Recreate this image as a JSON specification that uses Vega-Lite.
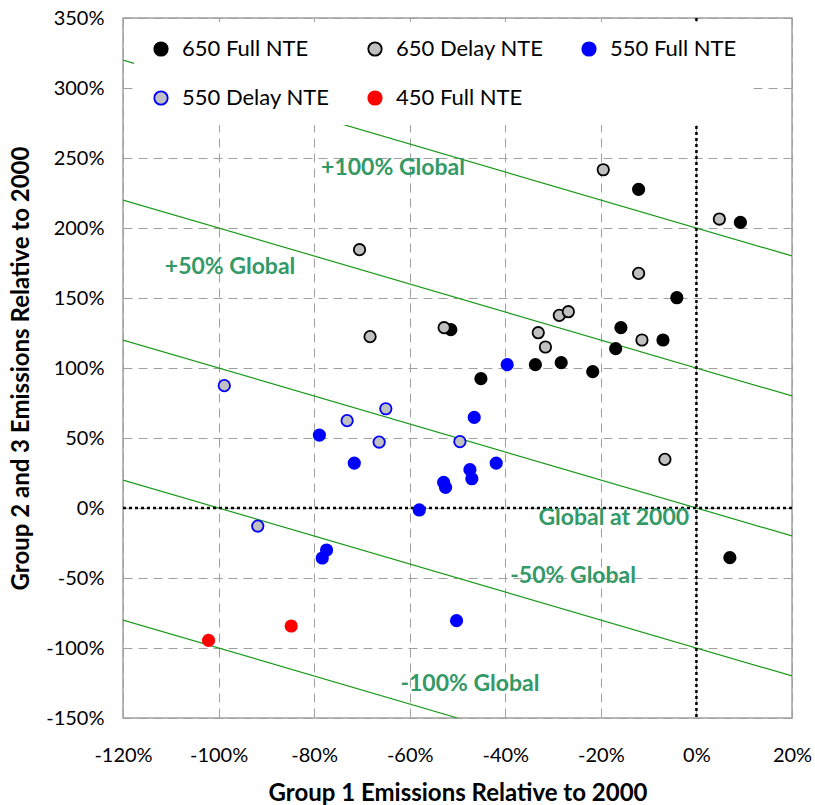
{
  "$schema": "https://vega.github.io/schema/vega-lite/v6.json",
  "autosize": {"type": "none"},
  "padding": {"left": 123, "top": 18, "right": 23, "bottom": 87},
  "width": 669,
  "height": 700,
  "config": {
    "font": "Lato",
    "view": {"stroke": "#a0a0a0", "strokeWidth": 1.5},
    "axis": {
      "grid": true, "gridColor": "#a0a0a0", "gridDash": [9, 6], "gridWidth": 1,
      "domain": false, "ticks": false,
      "labelFont": "Lato", "labelFontSize": 20, "labelColor": "#000000",
      "titleFont": "Lato", "titleFontSize": 24, "titleFontWeight": "bold", "titleColor": "#000000"
    },
    "legend": {
      "orient": "none", "legendX": 11, "legendY": 4,
      "direction": "horizontal", "columns": 3,
      "fillColor": "#ffffff", "padding": 16,
      "columnPadding": 34, "rowPadding": 27,
      "labelFont": "Lato", "labelFontSize": 22, "labelColor": "#000000", "labelLimit": 300,
      "labelOffset": 10, "symbolSize": 180, "symbolStrokeWidth": 1.8, "symbolType": "circle"
    }
  },
  "datasets": {
    "points": [
      {"s": "650 Full NTE", "x": -12.1, "y": 227.6},
      {"s": "650 Full NTE", "x": 9.2, "y": 204.0},
      {"s": "650 Full NTE", "x": -4.1, "y": 150.2},
      {"s": "650 Full NTE", "x": -51.4, "y": 127.4},
      {"s": "650 Full NTE", "x": -15.8, "y": 128.8},
      {"s": "650 Full NTE", "x": -7.0, "y": 120.0},
      {"s": "650 Full NTE", "x": -16.9, "y": 113.8},
      {"s": "650 Full NTE", "x": -33.7, "y": 102.4},
      {"s": "650 Full NTE", "x": -28.3, "y": 103.8},
      {"s": "650 Full NTE", "x": -21.7, "y": 97.4},
      {"s": "650 Full NTE", "x": -45.1, "y": 92.4},
      {"s": "650 Full NTE", "x": 7.0, "y": -35.5},
      {"s": "650 Delay NTE", "x": -19.5, "y": 241.6},
      {"s": "650 Delay NTE", "x": 4.8, "y": 206.4},
      {"s": "650 Delay NTE", "x": -12.1, "y": 167.6},
      {"s": "650 Delay NTE", "x": -28.7, "y": 137.6},
      {"s": "650 Delay NTE", "x": -26.8, "y": 140.2},
      {"s": "650 Delay NTE", "x": -52.8, "y": 128.8},
      {"s": "650 Delay NTE", "x": -33.1, "y": 125.2},
      {"s": "650 Delay NTE", "x": -31.6, "y": 115.0},
      {"s": "650 Delay NTE", "x": -11.4, "y": 120.0},
      {"s": "650 Delay NTE", "x": -6.6, "y": 34.7},
      {"s": "650 Delay NTE", "x": -70.5, "y": 184.5},
      {"s": "650 Delay NTE", "x": -68.3, "y": 122.4},
      {"s": "550 Full NTE", "x": -39.6, "y": 102.4},
      {"s": "550 Full NTE", "x": -46.5, "y": 64.7},
      {"s": "550 Full NTE", "x": -41.9, "y": 32.1},
      {"s": "550 Full NTE", "x": -47.4, "y": 27.4},
      {"s": "550 Full NTE", "x": -47.0, "y": 20.9},
      {"s": "550 Full NTE", "x": -52.9, "y": 18.3},
      {"s": "550 Full NTE", "x": -52.5, "y": 14.7},
      {"s": "550 Full NTE", "x": -58.0, "y": -1.4},
      {"s": "550 Full NTE", "x": -78.9, "y": 52.1},
      {"s": "550 Full NTE", "x": -71.6, "y": 32.1},
      {"s": "550 Full NTE", "x": -77.4, "y": -30.0},
      {"s": "550 Full NTE", "x": -78.3, "y": -35.7},
      {"s": "550 Full NTE", "x": -50.2, "y": -80.5},
      {"s": "550 Delay NTE", "x": -49.5, "y": 47.4},
      {"s": "550 Delay NTE", "x": -98.8, "y": 87.4},
      {"s": "550 Delay NTE", "x": -65.0, "y": 70.9},
      {"s": "550 Delay NTE", "x": -73.1, "y": 62.4},
      {"s": "550 Delay NTE", "x": -66.4, "y": 47.1},
      {"s": "550 Delay NTE", "x": -91.8, "y": -12.9},
      {"s": "450 Full NTE", "x": -84.8, "y": -84.3},
      {"s": "450 Full NTE", "x": -102.1, "y": -94.6}
    ],
    "lines": [
      {"line": "p200", "x": -120, "y": 320}, {"line": "p200", "x": 20, "y": 180},
      {"line": "p100", "x": -120, "y": 220}, {"line": "p100", "x": 20, "y": 80},
      {"line": "p0", "x": -120, "y": 120}, {"line": "p0", "x": 20, "y": -20},
      {"line": "m100", "x": -120, "y": 20}, {"line": "m100", "x": 20, "y": -120},
      {"line": "m200", "x": -120, "y": -80}, {"line": "m200", "x": -50, "y": -150}
    ],
    "labels": [
      {"t": "+100% Global", "x": -63.5, "y": 243},
      {"t": "+50% Global", "x": -97.6, "y": 172.4},
      {"t": "Global at 2000", "x": -17.3, "y": -7},
      {"t": "-50% Global", "x": -25.8, "y": -48.4},
      {"t": "-100% Global", "x": -47.4, "y": -126}
    ],
    "zeroX": [{"x": 0}],
    "zeroY": [{"y": 0}]
  },
  "layer": [
    {
      "data": {"name": "lines"},
      "mark": {"type": "line", "color": "#1a991a", "strokeWidth": 1.2, "clip": true},
      "encoding": {
        "x": {"field": "x", "type": "quantitative", "title": "Group 1 Emissions Relative to 2000",
              "scale": {"domain": [-120, 20], "nice": false, "zero": false},
              "axis": {
                "values": [-120, -100, -80, -60, -40, -20, 0, 20],
                "labelExpr": "datum.value + '%'",
                "labelFontSize": 20, "labelPadding": 27, "labelFlush": false, "labelOverlap": false,
                "titleFontSize": 24,
                "titleX": 334.5, "titleY": 75, "titleBaseline": "middle"
              }},
        "y": {"field": "y", "type": "quantitative", "title": "Group 2 and 3 Emissions Relative to 2000",
              "scale": {"domain": [-150, 350], "nice": false, "zero": false},
              "axis": {
                "values": [-150, -100, -50, 0, 50, 100, 150, 200, 250, 300, 350],
                "labelExpr": "datum.value + '%'",
                "labelFontSize": 20, "labelPadding": 19, "labelFlush": false, "labelOverlap": false,
                "titleFontSize": 24,
                "titleX": -102, "titleY": 350, "titleAngle": -90, "titleAlign": "center", "titleBaseline": "middle"
              }},
        "detail": {"field": "line", "type": "nominal"}
      }
    },
    {
      "data": {"name": "zeroX"},
      "mark": {"type": "rule", "color": "#000000", "strokeWidth": 2.5, "strokeDash": [3, 3]},
      "encoding": {"x": {"field": "x", "type": "quantitative", "title": "Group 1 Emissions Relative to 2000"}}
    },
    {
      "data": {"name": "zeroY"},
      "mark": {"type": "rule", "color": "#000000", "strokeWidth": 2.5, "strokeDash": [3, 3]},
      "encoding": {"y": {"field": "y", "type": "quantitative", "title": "Group 2 and 3 Emissions Relative to 2000"}}
    },
    {
      "data": {"name": "points"},
      "mark": {"type": "point", "shape": "circle", "filled": true, "opacity": 1, "size": 130, "strokeWidth": 1.8},
      "encoding": {
        "x": {"field": "x", "type": "quantitative", "title": "Group 1 Emissions Relative to 2000"},
        "y": {"field": "y", "type": "quantitative", "title": "Group 2 and 3 Emissions Relative to 2000"},
        "fill": {
          "field": "s", "type": "nominal",
          "scale": {
            "domain": ["650 Full NTE", "650 Delay NTE", "550 Full NTE", "550 Delay NTE", "450 Full NTE"],
            "range": ["#000000", "#c0c0c0", "#0000ff", "#c0c0c0", "#ff0000"]
          },
          "legend": {"title": null}
        },
        "stroke": {
          "field": "s", "type": "nominal",
          "scale": {
            "domain": ["650 Full NTE", "650 Delay NTE", "550 Full NTE", "550 Delay NTE", "450 Full NTE"],
            "range": ["#000000", "#000000", "#0000ff", "#0000ff", "#ff0000"]
          },
          "legend": {"title": null}
        }
      }
    },
    {
      "data": {"name": "labels"},
      "mark": {"type": "text", "font": "Lato", "fontSize": 23, "fontWeight": "bold", "color": "#339966", "align": "center", "baseline": "middle"},
      "encoding": {
        "x": {"field": "x", "type": "quantitative", "title": "Group 1 Emissions Relative to 2000"},
        "y": {"field": "y", "type": "quantitative", "title": "Group 2 and 3 Emissions Relative to 2000"},
        "text": {"field": "t", "type": "nominal"}
      }
    }
  ]
}
